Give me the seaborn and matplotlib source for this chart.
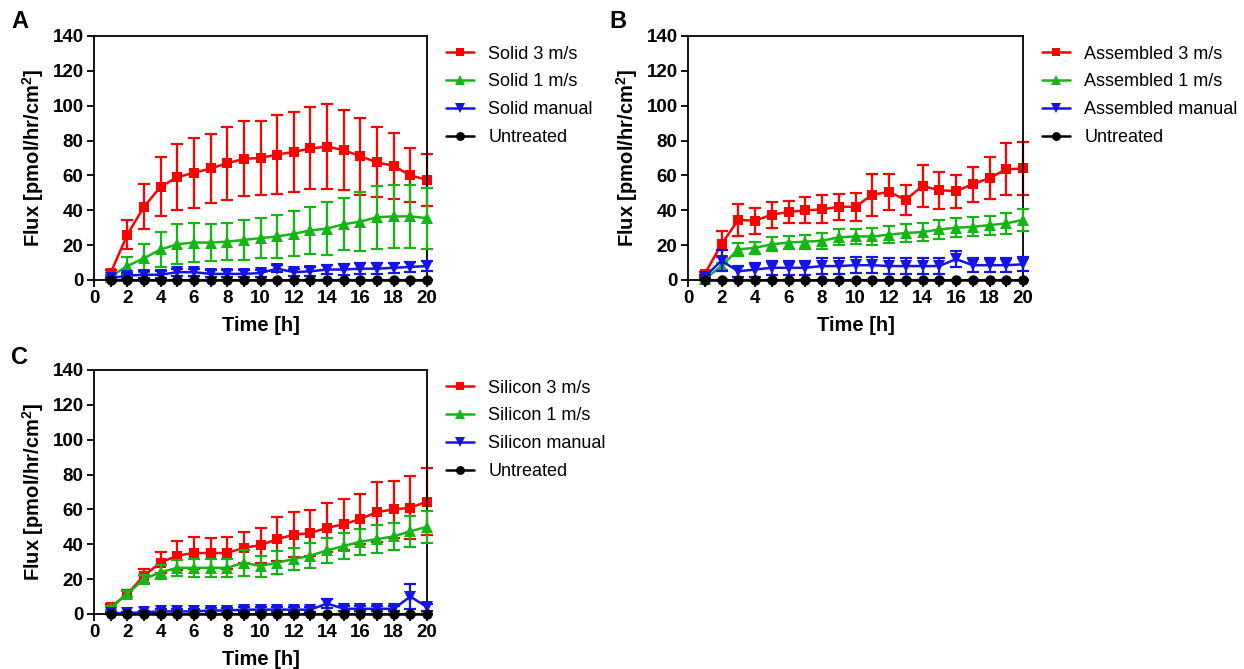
import numpy as np
import pandas as pd
import matplotlib
matplotlib.use("Agg")
import matplotlib.pyplot as plt
from matplotlib.lines import Line2D
import seaborn as sns

# ---- data -------------------------------------------------------------
hours = [1, 2, 3, 4, 5, 6, 7, 8, 9, 10, 11, 12, 13, 14, 15, 16, 17, 18, 19, 20]

untreated = [0, 0, 0, 0, 0, 0, 0, 0, 0, 0, 0, 0, 0, 0, 0, 0, 0, 0, 0, 0]
untreated_err = [0, 0, 0, 0, 0, 0, 0, 0, 0, 0, 0, 0, 0, 0, 0, 0, 0, 0, 0, 0]

solid_3 = [4, 26, 42, 53.5, 59, 61.5, 64, 67, 69.5, 70, 72, 73.5, 75.5, 76.5, 74.5, 71, 67.5, 65.5, 60, 57.5]
solid_3_err = [2, 8.5, 13, 17, 19, 20, 20, 21, 21.5, 21, 22.5, 23, 23.5, 24.5, 23, 22, 20, 19, 15.5, 15]
solid_1 = [2, 8, 12.5, 17.5, 20.5, 21.5, 21.5, 22, 23, 24, 25, 26.5, 28.5, 29.5, 32, 33.5, 36, 36.5, 36.5, 35.5]
solid_1_err = [1, 5, 8, 10, 11.5, 11, 10.5, 10.5, 11.5, 11.5, 12.5, 13, 13.5, 15, 15, 17, 18, 18, 18, 17.5]
solid_man = [1, 2.5, 3, 3, 4.5, 4.5, 3.5, 3.5, 3.5, 4, 6.5, 4.5, 5, 6, 6, 6.5, 6.5, 7, 7.5, 8]
solid_man_err = [0.5, 1.5, 2, 2, 2, 2, 2, 2, 2, 2, 2, 2, 2.5, 2.5, 3, 3, 3, 3, 3, 3]

asm_3 = [3.5, 20.5, 34.5, 34, 37.5, 39, 40, 40.5, 42, 42, 49, 50.5, 46, 54, 51.5, 51, 55, 58.5, 63.5, 64]
asm_3_err = [1, 7.5, 9, 7.5, 7.5, 6.5, 7.5, 8, 7.5, 8, 12, 10.5, 8.5, 12, 10.5, 9.5, 10, 12, 15, 15]
asm_1 = [0.5, 8, 17.5, 18.5, 20.5, 21.5, 22, 22.5, 24.5, 25, 25, 26, 27, 27.5, 29, 30, 30.5, 31.5, 32.5, 34.5]
asm_1_err = [0.5, 2, 3.5, 3.5, 4, 4, 4, 4.5, 4.5, 4.5, 5, 5, 5, 5, 5.5, 5.5, 5.5, 5.5, 6, 6.5]
asm_man = [2, 11, 5, 6, 7, 7, 7, 8, 8, 8.5, 8.5, 8, 8, 8, 8, 12, 8.5, 8.5, 8.5, 9]
asm_man_err = [1, 6, 3, 4, 4, 4, 4, 4.5, 4.5, 4.5, 4.5, 4.5, 4.5, 4.5, 4.5, 4.5, 4, 4, 4, 4]

sil_3 = [4, 11.5, 22, 29.5, 33.5, 35, 35, 35, 38, 39.5, 43, 45.5, 46.5, 49.5, 51.5, 54.5, 58.5, 60, 61, 64.5]
sil_3_err = [1.5, 2, 4, 6, 8.5, 9, 8.5, 9, 9, 10, 12.5, 13, 13, 14, 14.5, 14.5, 17, 16.5, 18, 19]
sil_1 = [3.5, 11.5, 20, 24, 26.5, 26.5, 26.5, 26.5, 29.5, 27.5, 29.5, 31.5, 33.5, 36.5, 39, 41.5, 43, 44.5, 47.5, 50]
sil_1_err = [1, 1.5, 2.5, 4, 4.5, 5, 5, 5, 7.5, 6, 6.5, 6.5, 7, 7, 7.5, 7.5, 8, 8, 9, 9]
sil_man = [0.5, 0.5, 1, 1.5, 1.5, 1.5, 2, 2, 2.5, 2.5, 2.5, 2.5, 2.5, 6, 3, 3, 3, 3, 10, 4]
sil_man_err = [0.5, 0.5, 1, 1.5, 1.5, 1.5, 1.5, 1.5, 1.5, 1.5, 1.5, 1.5, 1.5, 2.5, 1.5, 1.5, 1.5, 1.5, 7, 2]

panels = [
    ("A", "Solid", [(solid_3, solid_3_err), (solid_1, solid_1_err), (solid_man, solid_man_err), (untreated, untreated_err)]),
    ("B", "Assembled", [(asm_3, asm_3_err), (asm_1, asm_1_err), (asm_man, asm_man_err), (untreated, untreated_err)]),
    ("C", "Silicon", [(sil_3, sil_3_err), (sil_1, sil_1_err), (sil_man, sil_man_err), (untreated, untreated_err)]),
]
suffixes = ["3 m/s", "1 m/s", "manual", None]

# ---- style ------------------------------------------------------------
sns.set_theme(style="ticks")
plt.rcParams["font.family"] = ["Liberation Sans", "DejaVu Sans"]
plt.rcParams["mathtext.fontset"] = "custom"
plt.rcParams["mathtext.rm"] = "Liberation Sans"
plt.rcParams["mathtext.bf"] = "Liberation Sans:bold"
for key in ["text.color", "axes.labelcolor", "xtick.color", "ytick.color",
            "axes.edgecolor"]:
    plt.rcParams[key] = "black"

colors = ["#ff0000", "#16b516", "#1414e6", "#000000"]
markers = ["s", "^", "v", "o"]
msizes = [7.5, 8, 8, 7.5]

fig = plt.figure(figsize=(12.44, 6.69), dpi=100)
W, H = 1244, 669
boxes = {
    "A": (94, 36, 333, 244),
    "B": (688, 36, 335, 244),
    "C": (94, 370, 333, 244),
}
letter_pos = {"A": (11, 22), "B": (609, 21), "C": (11, 357)}

for letter, name, series in panels:
    x0, y0, w, h = boxes[letter]
    ax = fig.add_axes([x0 / W, 1 - (y0 + h) / H, w / W, h / H])
    handles, labels = [], []
    for i, (vals, errs) in enumerate(series):
        label = "Untreated" if suffixes[i] is None else f"{name} {suffixes[i]}"
        df = pd.DataFrame({"Time": hours, "Flux": vals})
        ax.errorbar(hours, vals, yerr=errs, fmt="none", ecolor=colors[i],
                    elinewidth=1.6, capsize=4.5, capthick=1.6, clip_on=False,
                    zorder=2 + i)
        sns.lineplot(data=df, x="Time", y="Flux", ax=ax, color=colors[i],
                     marker=markers[i], markersize=msizes[i],
                     markeredgewidth=0, linewidth=1.8, clip_on=False,
                     zorder=2.5 + i, legend=False)
        handles.append(Line2D([0], [0], color=colors[i], marker=markers[i],
                              markersize=msizes[i] * 0.85, markeredgewidth=0,
                              linewidth=1.8))
        labels.append(label)

    ax.set_xlim(0, 20)
    ax.set_ylim(0, 140)
    ax.set_xticks(range(0, 21))
    ax.set_xticklabels([str(t) if t % 2 == 0 else "" for t in range(0, 21)])
    ax.set_yticks(range(0, 141, 20))
    for s in ax.spines.values():
        s.set_linewidth(1.3)
        s.set_color("black")
    ax.tick_params(axis="both", length=5, width=1.3, color="black",
                   labelcolor="black", labelsize=13.5, pad=2.5)
    for t in ax.get_xticklabels() + ax.get_yticklabels():
        t.set_fontweight("bold")
    ax.set_xlabel("Time [h]", fontsize=14.5, fontweight="bold", labelpad=6,
                  color="black")
    ax.set_ylabel(r"Flux [pmol/hr/cm$^{\mathbf{2}}$]", fontsize=14.5,
                  fontweight="bold", labelpad=5, color="black")
    ax.legend(handles, labels, loc="upper left", bbox_to_anchor=(1.035, 0.99),
              frameon=False, fontsize=13, handlelength=1.55,
              handletextpad=0.8, labelspacing=0.6, borderaxespad=0,
              labelcolor="black")
    lx, ly = letter_pos[letter]
    fig.text(lx / W, 1 - ly / H, letter, fontsize=17, fontweight="bold",
             ha="left", va="center", color="black")

fig.savefig("out.png", dpi=100)
